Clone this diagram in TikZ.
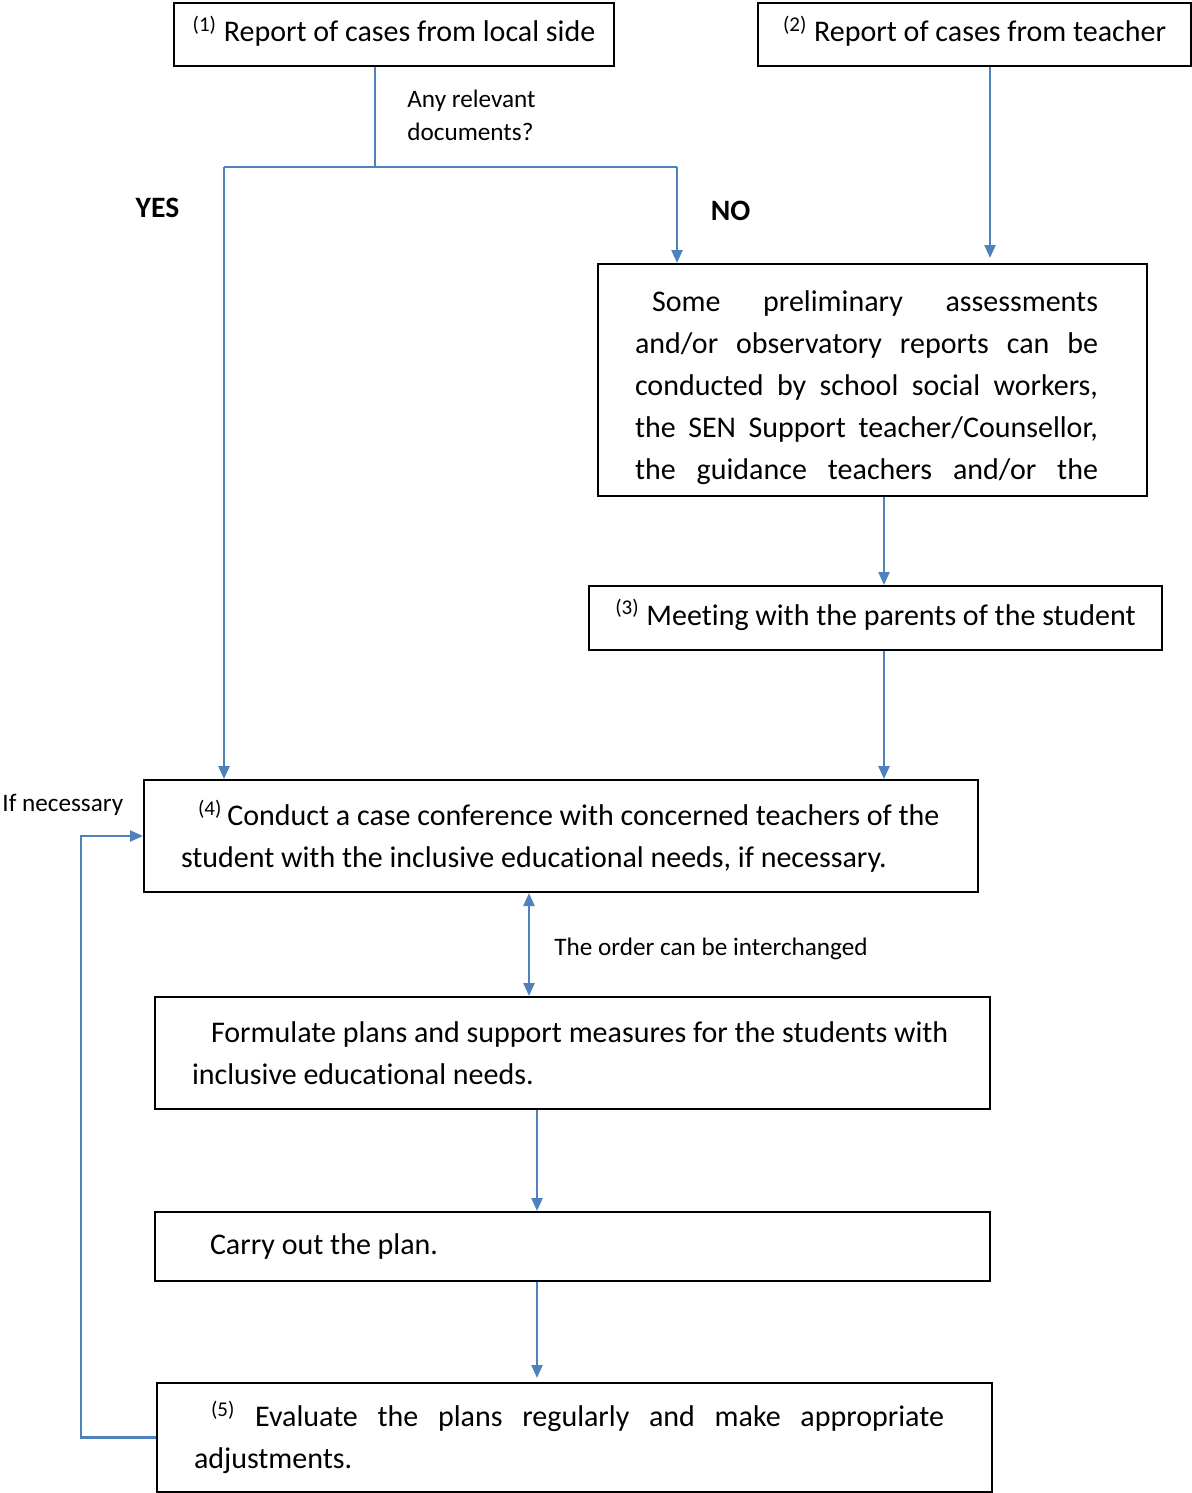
\documentclass[tikz,border=0pt]{standalone}
\usepackage{fontspec}
\setmainfont{Carlito}[Ligatures=NoCommon]
\usepackage{tikz}
\usetikzlibrary{arrows.meta, positioning}
\definecolor{flowblue}{HTML}{4F81BD}
\newcommand{\fullline}[2]{\makebox[#1][s]{\spaceskip=0pt\xspaceskip=0pt #2}}
\tikzstyle{stepbox} = [draw=black, line width=1pt, rectangle, inner sep=0pt, align=left, font=\fontsize{15}{21}\selectfont, execute at begin node={\spaceskip=0pt\xspaceskip=0pt}]
\tikzstyle{headbox} = [stepbox, text depth=5.5pt]
\tikzstyle{plain} = [draw=flowblue, line width=1.2pt]
\tikzstyle{flow} = [plain, -{Triangle[length=6.5pt,width=5.5pt]}]
\tikzstyle{note} = [inner sep=0pt, align=left, font=\fontsize{12.6}{16.5}\selectfont, execute at begin node={\spaceskip=0pt\xspaceskip=0pt}]
\tikzstyle{answer} = [inner sep=0pt, font=\fontsize{14.8}{16}\selectfont\bfseries]

\begin{document}
\begin{tikzpicture}[x=0.5pt, y=-0.5pt]
	\useasboundingbox (0,0) rectangle (1192,1493);
	\node[headbox, anchor=north west, minimum width=220pt, minimum height=31.5pt] (local) at (173,2)
		{\textsuperscript{(1)} Report of cases from local side};
	\node[headbox, anchor=north west, minimum width=216.5pt, minimum height=31.5pt] (teacher) at (757,2)
		{\textsuperscript{(2)} Report of cases from teacher};
	\node[stepbox, anchor=north west, minimum width=274.5pt, minimum height=116pt, text width=237.5pt, text height=18.5pt] (assess) at (597,263)
		{\hspace*{8.5pt}\fullline{223pt}{Some preliminary assessments}\\
		\fullline{231.5pt}{and/or observatory reports can be}\\
		\fullline{231.5pt}{conducted by school social workers,}\\
		\fullline{231.5pt}{the SEN Support teacher/Counsellor,}\\
		\fullline{231.5pt}{the guidance teachers and/or the}};
	\node[headbox, anchor=north west, minimum width=286.5pt, minimum height=32pt] (meeting) at (588,585)
		{\textsuperscript{(3)} Meeting with the parents of the student};
	\node[stepbox, anchor=north west, minimum width=417pt, minimum height=56pt, text width=380pt] (conference) at (143,779)
		{\hspace*{8.5pt}\textsuperscript{(4)}\,Conduct a case conference with concerned teachers of the\\
		student with the inclusive educational needs, if necessary.};
	\node[stepbox, anchor=north west, minimum width=417.5pt, minimum height=56pt, text width=380.5pt] (formulate) at (154,996)
		{\hspace*{9.5pt}Formulate plans and support measures for the students with\\
		inclusive educational needs.};
	\node[stepbox, anchor=north west, minimum width=417.5pt, minimum height=34.5pt, text width=380.5pt] (carry) at (154,1211)
		{\hspace*{9pt}Carry out the plan.};
	\node[stepbox, anchor=north west, minimum width=417.5pt, minimum height=54.5pt, text width=380.5pt] (evaluate) at (156,1382)
		{\hspace*{8.5pt}\fullline{366.5pt}{\textsuperscript{(5)} Evaluate the plans regularly and make appropriate}\\
		adjustments.};

	\node[note, anchor=west] (question) at (407,115.5) {Any relevant\\documents?};
	\node[answer] (yes) at (157.5,208) {YES};
	\node[answer] (no) at (730.5,211) {NO};
	\node[note, anchor=west] (order) at (554,949) {The order can be interchanged};
	\node[note, anchor=west] (ifnec) at (2,805) {If necessary};

	\coordinate (split) at (375,167);
	\coordinate (yesturn) at (224,167);
	\coordinate (noturn) at (677,167);
	\coordinate (teacherdrop) at (990,258);
	\coordinate (rightspine) at (884,0);
	\coordinate (swap) at (529,0);
	\coordinate (midspine) at (537,0);
	\coordinate (loop) at (81,0);

	\draw[plain] (local.south -| split) -- (split);
	\draw[plain] (yesturn) -- (noturn);
	\draw[flow] (yesturn) -- (yesturn |- conference.north);
	\draw[flow] (noturn) -- (noturn |- assess.north);
	\draw[flow] (teacher.south -| teacherdrop) -- (teacherdrop);
	\draw[flow] (assess.south -| rightspine) -- (meeting.north -| rightspine);
	\draw[flow] (meeting.south -| rightspine) -- (conference.north -| rightspine);
	\draw[flow, {Triangle[length=6.5pt,width=5.5pt]}-{Triangle[length=6.5pt,width=5.5pt]}]
		(conference.south -| swap) -- (formulate.north -| swap);
	\draw[flow] (formulate.south -| midspine) -- (carry.north -| midspine);
	\draw[flow, shorten >=2pt] (carry.south -| midspine) -- (evaluate.north -| midspine);
	\draw[flow] (evaluate.west) -- (evaluate.west -| loop) -- (loop |- conference.west) -- (conference.west);
\end{tikzpicture}
\end{document}
